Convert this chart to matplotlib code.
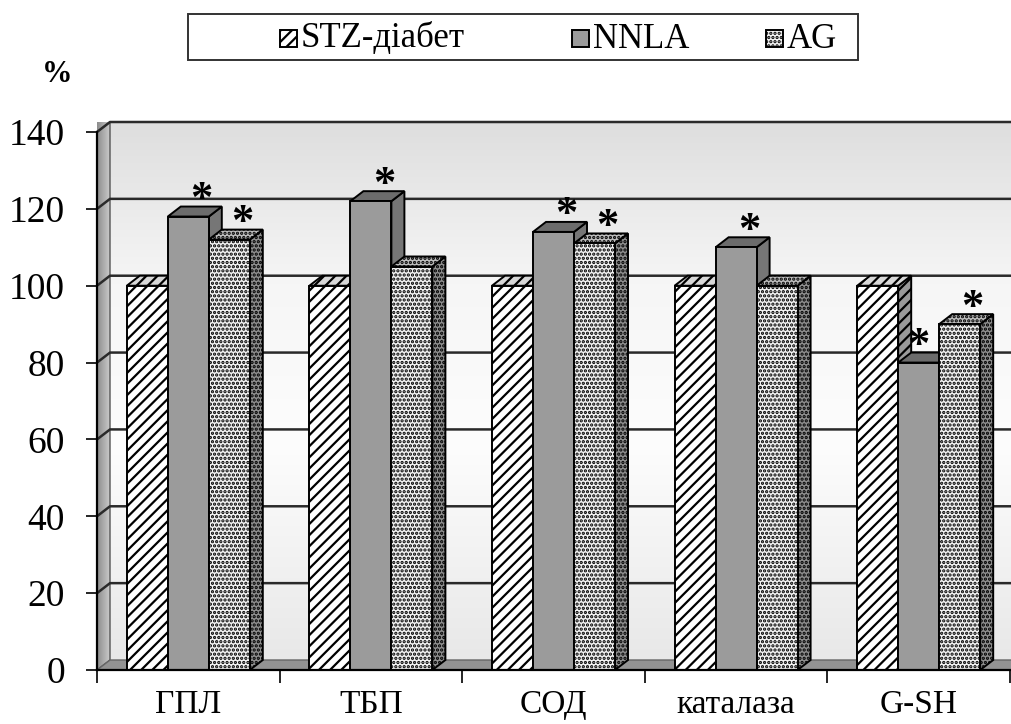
import matplotlib
matplotlib.use("Agg")
import matplotlib.pyplot as plt
import numpy as np
from matplotlib.colors import LinearSegmentedColormap
from matplotlib.patches import Polygon, Rectangle

categories = ["ГПЛ", "ТБП", "СОД", "каталаза", "G-SH"]
series = ["STZ-діабет", "NNLA", "AG"]
stz = [100, 100, 100, 100, 100]
nnla = [118, 122, 114, 110, 80]
ag = [112, 105, 111, 100, 90]
# significance (*) above the bar
stz_sig = [False, False, False, False, False]
nnla_sig = [True, True, True, True, True]
ag_sig = [True, False, True, False, True]
yticks = [0, 20, 40, 60, 80, 100, 120, 140]

plt.rcParams["font.family"] = ["Liberation Serif", "DejaVu Serif"]
plt.rcParams["hatch.linewidth"] = 1.6

W, H = 1012, 724
fig = plt.figure(figsize=(W / 100, H / 100), dpi=100)

# plot box in pixels
L, R, T, B = 97, 1010, 132, 670
ax = fig.add_axes([L / W, 1 - B / H, (R - L) / W, (B - T) / H])
ncat = len(categories)
ymax = 140

ux = ncat / (R - L)      # data units per pixel
uy = ymax / (B - T)
dx, dy = 13 * ux, 10 * uy  # depth offset of the 3-D look
xend = (W - L) * ux

# back wall with soft vertical gradient
wall = LinearSegmentedColormap.from_list(
    "wall", [(0, "#e8e8e8"), (0.4, "#fdfdfd"), (0.7, "#f6f6f6"), (1, "#dedede")])
grad = np.linspace(0, 1, 256).reshape(-1, 1)
ax.imshow(grad, cmap=wall, origin="lower", aspect="auto",
          extent=(dx, xend, dy, ymax + dy), zorder=0, clip_on=False)

# left side wall
side = LinearSegmentedColormap.from_list("side", ["#8c8c8c", "#cacaca"])
sw = Polygon([(0, 0), (dx, dy), (dx, ymax + dy), (0, ymax)], closed=True,
             fc="none", ec="#555555", lw=1, zorder=1, clip_on=False)
ax.add_patch(sw)
im = ax.imshow(np.linspace(0, 1, 64).reshape(1, -1), cmap=side, aspect="auto",
               extent=(0, dx, 0, ymax + dy), zorder=0.5, clip_on=False)
im.set_clip_path(sw)

# floor
ax.add_patch(Polygon([(0, 0), (dx, dy), (xend, dy), (xend, 0)], closed=True,
                     fc="#939393", ec="#666666", lw=1, zorder=1, clip_on=False))

# gridlines: on the side wall and across the back wall
for v in yticks[1:]:
    ax.plot([0, dx, xend], [v, v + dy, v + dy], color="#2a2a2a", lw=1.8,
            zorder=1.5, clip_on=False, solid_capstyle="butt")

styles = {
    "STZ-діабет": dict(front="#ffffff", top="#d8d8d8", side="#9a9a9a", hatch="///"),
    "NNLA": dict(front="#9b9b9b", top="#6c6c6c", side="#767676", hatch=None),
    "AG": dict(front="#f2f2f2", top="#bdbdbd", side="#8e8e8e", hatch="...."),
}
values = [stz, nnla, ag]
sigs = [stz_sig, nnla_sig, ag_sig]
bw = 41 * ux


def bar3d(x0, v, st, z):
    kw = dict(ec="black", lw=1.4, hatch=st["hatch"], zorder=z, clip_on=False)
    ax.add_patch(Polygon([(x0 + bw, 0), (x0 + bw + dx, dy), (x0 + bw + dx, v + dy),
                          (x0 + bw, v)], closed=True, fc=st["side"], **kw))
    ax.add_patch(Polygon([(x0, v), (x0 + dx, v + dy), (x0 + bw + dx, v + dy),
                          (x0 + bw, v)], closed=True, fc=st["top"], **kw))
    ax.add_patch(Rectangle((x0, 0), bw, v, fc=st["front"], **kw))


z = 3.0
for i in range(ncat):
    x_start = i + 0.5 - 1.5 * bw
    for j, name in enumerate(series):
        x0 = x_start + j * bw
        v = values[j][i]
        bar3d(x0, v, styles[name], z)
        z += 0.01
        if sigs[j][i]:
            xc = x0 + bw / 2
            nxt = values[j + 1][i] if j + 1 < len(series) else 0
            xs = xc if nxt > v else xc + dx
            ax.annotate("*", xy=(xs, v), xytext=(0, 4), textcoords="offset points",
                        ha="center", va="baseline", fontsize=32, fontweight="bold",
                        zorder=10, annotation_clip=False)

ax.set_xlim(0, ncat)
ax.set_ylim(0, ymax)
ax.set_facecolor("none")
for s in ("top", "right"):
    ax.spines[s].set_visible(False)
for s in ("left", "bottom"):
    ax.spines[s].set_linewidth(1.6)
    ax.spines[s].set_zorder(20)

ax.set_yticks(yticks)
ax.set_yticklabels([str(t) for t in yticks], fontsize=27)
ax.tick_params(axis="y", length=8, width=1.2, pad=15)

ax.set_xticks(np.arange(ncat + 1))
ax.set_xticklabels([])
ax.tick_params(axis="x", which="major", length=9, width=1.2)
ax.set_xticks(np.arange(ncat) + 0.5, minor=True)
ax.set_xticklabels(categories, minor=True, fontsize=24)
ax.tick_params(axis="x", which="minor", length=0, pad=14)

fig.text(57 / W, 1 - 75 / H, "%", fontsize=22, fontweight="bold",
         ha="center", va="center")

# legend box drawn by hand
def fbox(x, y, w, h, **kw):
    return Rectangle((x / W, 1 - (y + h) / H), w / W, h / H,
                     transform=fig.transFigure, **kw)

fig.add_artist(fbox(188, 14, 670, 46, fill=False, ec="#333333", lw=1.4))
leg_x = [280, 572, 766]
for name, lx in zip(series, leg_x):
    st = styles[name]
    fig.add_artist(fbox(lx, 30, 17, 17, fc=st["front"], ec="black", lw=1.4,
                        hatch=st["hatch"]))
    fig.text((lx + 21) / W, 1 - 39 / H, name, fontsize=25, ha="left", va="center")

fig.savefig("out.png", dpi=100)
